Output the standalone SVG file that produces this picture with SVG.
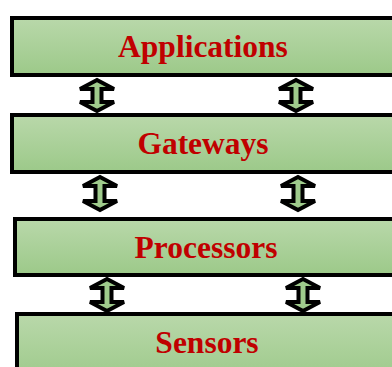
<svg xmlns="http://www.w3.org/2000/svg" width="392" height="367" viewBox="0 0 392 367">
<defs>
<linearGradient id="g" x1="0" y1="0" x2="0" y2="1">
<stop offset="0" stop-color="#b9d8aa"/>
<stop offset="1" stop-color="#9cc989"/>
</linearGradient>
</defs>
<style>
.box{fill:url(#g);stroke:#000;stroke-width:4}
.lbl{font-family:"Liberation Serif","Times New Roman",serif;font-weight:bold;font-size:31.5px;fill:#c00000;text-anchor:middle}
.arr{fill:#9fcb8c;stroke:#000;stroke-width:4;stroke-linejoin:miter}
</style>
<rect width="392" height="367" fill="#fff"/>
<g id="applications">
<rect class="box" x="12" y="18" width="390" height="57"/>
<text class="lbl" x="203" y="57">Applications</text>
</g>
<g id="gateways">
<rect class="box" x="12" y="115" width="390" height="57"/>
<text class="lbl" x="203" y="154">Gateways</text>
</g>
<g id="processors">
<rect class="box" x="15" y="219" width="390" height="56"/>
<text class="lbl" x="206" y="258">Processors</text>
</g>
<g id="sensors">
<rect class="box" x="17" y="314" width="390" height="70"/>
<text class="lbl" x="207" y="353">Sensors</text>
</g>
<g id="connectors">
<path class="arr" d="M97,80 L114,89 L101.5,89 L101.5,102 L114,102 L97,111 L80,102 L92.5,102 L92.5,89 L80,89 Z"/>
<path class="arr" d="M296,80 L313,89 L300.5,89 L300.5,102 L313,102 L296,111 L279,102 L291.5,102 L291.5,89 L279,89 Z"/>
<path class="arr" d="M100,177 L117,186 L104.5,186 L104.5,201 L117,201 L100,210 L83,201 L95.5,201 L95.5,186 L83,186 Z"/>
<path class="arr" d="M298,177 L315,186 L302.5,186 L302.5,201 L315,201 L298,210 L281,201 L293.5,201 L293.5,186 L281,186 Z"/>
<path class="arr" d="M107,279 L124,288 L111.5,288 L111.5,302 L124,302 L107,311 L90,302 L102.5,302 L102.5,288 L90,288 Z"/>
<path class="arr" d="M303,279 L320,288 L307.5,288 L307.5,302 L320,302 L303,311 L286,302 L298.5,302 L298.5,288 L286,288 Z"/>
</g>
</svg>
